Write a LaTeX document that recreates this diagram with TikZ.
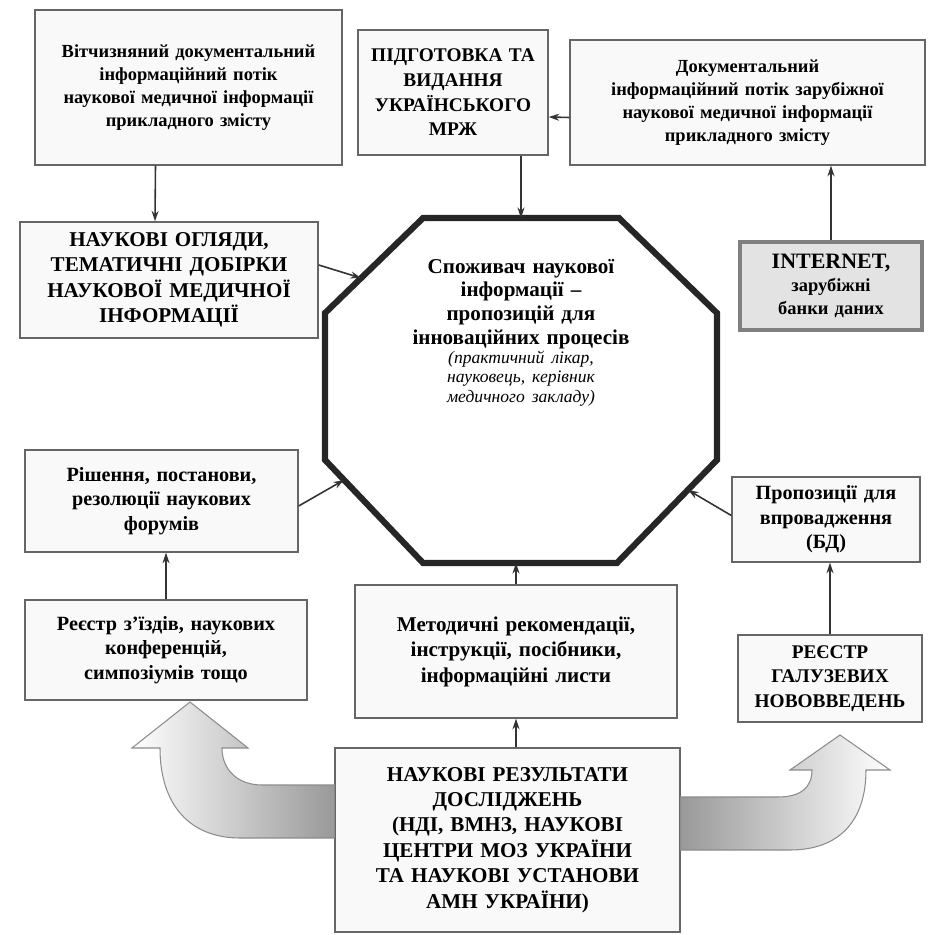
\documentclass[tikz,border=0pt]{standalone}
\usepackage{fontspec}
\setmainfont{Liberation Serif}
\usepackage{tikz}
\usetikzlibrary{calc, arrows.meta, positioning}
\tikzset{
    box/.style = {draw=black!60, line width=0.8pt, fill=gray!5, align=center, inner xsep=0.1cm},
    sbox/.style = {box, font=\bfseries\fontsize{10.5}{13}\selectfont},
    lbox/.style = {box, font=\bfseries\fontsize{12}{14.5}\selectfont},
    mbox/.style = {box, font=\bfseries\fontsize{11}{14}\selectfont},
    webbox/.style = {box, fill=gray!22, draw=black!50, line width=1.8pt, font=\bfseries\fontsize{10.5}{13}\selectfont},
    link/.style = {draw=black!80, line width=0.9pt, -{Stealth[length=6pt, width=4pt]}},
    octline/.style = {draw=black!85, line width=3.5pt, line join=miter},
    flow/.style = {draw=black!45, line width=0.6pt},
}
\newcommand{\drawB}[6][lbox]{
    \node[#1, text width=#4, minimum height=#5] (#2) at #3 {#6};
}
\newcommand{\drawE}[2]{
    \draw[link] (#1) -- (#2);
}

\begin{document}
\begin{tikzpicture}[x=0.02cm, y=-0.02cm]
        \useasboundingbox (0,0) rectangle (940,935);
        % Top row
        \drawB[sbox]{tl}{(188.5,87.5)}{5.94cm}{3.1cm}{Вітчизняний документальний\\ інформаційний потік\\ наукової медичної інформації\\ прикладного змісту}
        \drawB[mbox]{mrzh}{(453,92.5)}{3.6cm}{2.5cm}{ПІДГОТОВКА ТА\\ ВИДАННЯ\\ УКРАЇНСЬКОГО\\ МРЖ}
        \drawB[sbox]{tr}{(747.5,102.5)}{6.9cm}{2.5cm}{Документальний\\ інформаційний потік зарубіжної\\ наукової медичної інформації\\ прикладного змісту}
        \drawB{ogl}{(169,280)}{5.76cm}{2.32cm}{НАУКОВІ ОГЛЯДИ,\\ ТЕМАТИЧНІ ДОБІРКИ\\ НАУКОВОЇ МЕДИЧНОЇ\\ ІНФОРМАЦІЇ}
        \drawB[webbox]{inet}{(831,286)}{3.44cm}{1.76cm}{{\fontsize{12.5}{14}\selectfont INTERNET,}\\ зарубіжні\\ банки даних}
        % Consumer
        \node[inner sep=0pt, outer sep=0pt, minimum width=7.84cm, minimum height=6.9cm] (oct) at (521,390.5) {};
        \draw[octline] ($(oct.north west)+(98,0)$) -- ($(oct.north east)+(-98,0)$) -- ($(oct.north east)+(0,95)$) -- ($(oct.south east)+(0,-103)$) -- ($(oct.south east)+(-100,0)$) -- ($(oct.south west)+(98,0)$) -- ($(oct.south west)+(0,-103)$) -- ($(oct.north west)+(0,95)$) -- cycle;
        \node[align=center, text width=6.6cm, font=\bfseries\fontsize{12}{13.5}\selectfont] (cons) at ($(oct.center)+(0,-58)$) {Споживач наукової\\ інформації –\\ пропозицій для\\ інноваційних процесів\par {\mdseries\itshape\fontsize{10}{11}\selectfont (практичний лікар,\\ науковець, керівник\\ медичного закладу)\par}};
        \coordinate (octNW) at ($(oct.north west)+(36,60)$);
        \coordinate (octSW) at ($(oct.south west)+(19,-83)$);
        \coordinate (octSE) at ($(oct.south east)+(-29,-73)$);
        % Lower rows
        \drawB[lbox, font=\bfseries\fontsize{11.5}{14}\selectfont]{rish}{(161.5,501)}{5.26cm}{2.04cm}{Рішення, постанови,\\ резолюції наукових\\ форумів}
        \drawB[lbox, font=\bfseries\fontsize{11.5}{14}\selectfont]{prop}{(826,519.5)}{3.56cm}{1.7cm}{Пропозиції для\\ впровадження\\ (БД)}
        \drawB[lbox, font=\bfseries\fontsize{11.5}{14}\selectfont]{reg}{(166,650)}{5.44cm}{2.0cm}{Реєстр з'їздів, наукових\\ конференцій,\\ симпозіумів тощо}
        \drawB{met}{(516,651.5)}{6.24cm}{2.66cm}{Методичні рекомендації,\\ інструкції, посібники,\\ інформаційні листи}
        \drawB[mbox]{nov}{(830,678.5)}{3.48cm}{1.74cm}{РЕЄСТР\\ ГАЛУЗЕВИХ\\ НОВОВВЕДЕНЬ}
        \drawB{res}{(507.5,840)}{6.7cm}{3.68cm}{НАУКОВІ РЕЗУЛЬТАТИ\\ ДОСЛІДЖЕНЬ\\ (НДІ, ВМНЗ, НАУКОВІ\\ ЦЕНТРИ МОЗ УКРАЇНИ\\ ТА НАУКОВІ УСТАНОВИ\\ АМН УКРАЇНИ)}
        % Links
        \drawE{$(tl.south)+(-33,0)$}{$(ogl.north)+(-14,0)$}
        \drawE{mrzh.south -| oct.north}{oct.north}
        \drawE{$(tr.west)+(0,15)$}{$(mrzh.east)+(0,24.5)$}
        \drawE{inet.north}{inet.north |- tr.south}
        \drawE{$(ogl.east)+(0,-15)$}{octNW}
        \drawE{$(rish.east)+(0,5)$}{octSW}
        \drawE{$(prop.west)+(0,-4)$}{octSE}
        \drawE{met.north}{met.north |- oct.south}
        \drawE{res.north -| met.south}{met.south}
        \drawE{reg.north}{reg.north |- rish.south}
        \drawE{nov.north}{nov.north |- prop.south}
        % Big arrows
        \draw[flow, left color=white, right color=gray!80] ($(res.west)+(0,-55)$) -- (262,785) .. controls (238,785) and (222,770) .. (222,748) -- (248,748) -- (190,702) -- (132,748) -- (160,748) .. controls (160,805) and (190,838) .. (240,838) -- ($(res.west)+(0,-2)$) -- cycle;
        \draw[flow, left color=gray!80, right color=white] ($(res.east)+(0,-43)$) -- (778,797) .. controls (800,797) and (812,788) .. (812,770) -- (790,770) -- (840,735) -- (890,770) -- (866,770) .. controls (866,820) and (840,850) .. (790,850) -- ($(res.east)+(0,10)$) -- cycle;
    \end{tikzpicture}
\end{document}
